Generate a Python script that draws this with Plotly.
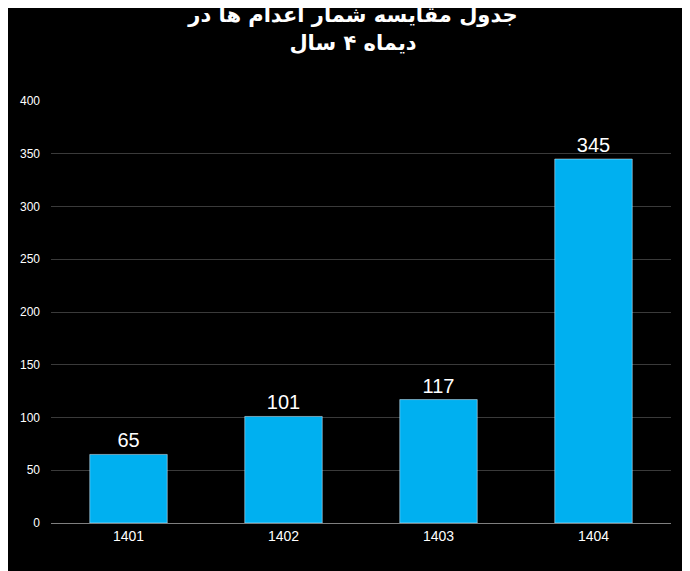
import plotly.graph_objects as go

years = ["1401", "1402", "1403", "1404"]
counts = [65, 101, 117, 345]
title_text = "<b>جدول مقایسه شمار اعدام ها در<br>دیماه ۴ سال</b>"

fig = go.Figure(go.Bar(
    x=years, y=counts, marker_color="#00B0F0",
    text=[str(v) for v in counts], textposition="outside",
    textfont=dict(color="white", size=20, family="Liberation Sans"),
    cliponaxis=False,
))
fig.update_layout(
    width=690, height=571,
    paper_bgcolor="black", plot_bgcolor="black",
    title=dict(text=title_text, x=0.5, xanchor="center", y=0.975, yanchor="top",
               font=dict(color="white", size=21, family="DejaVu Sans")),
    margin=dict(l=43, r=27, t=93, b=56),
    bargap=0.5, showlegend=False,
    font=dict(color="white", family="Liberation Sans"),
    xaxis=dict(showgrid=False, showline=True, linecolor="#7f7f7f",
               tickfont=dict(size=14, color="white"), ticks=""),
    yaxis=dict(range=[0, 400], dtick=50, gridcolor="#3a3a3a", zeroline=False,
               tickfont=dict(size=12, color="white"), ticklabelstandoff=10),
)
fig.write_html("out.html")
